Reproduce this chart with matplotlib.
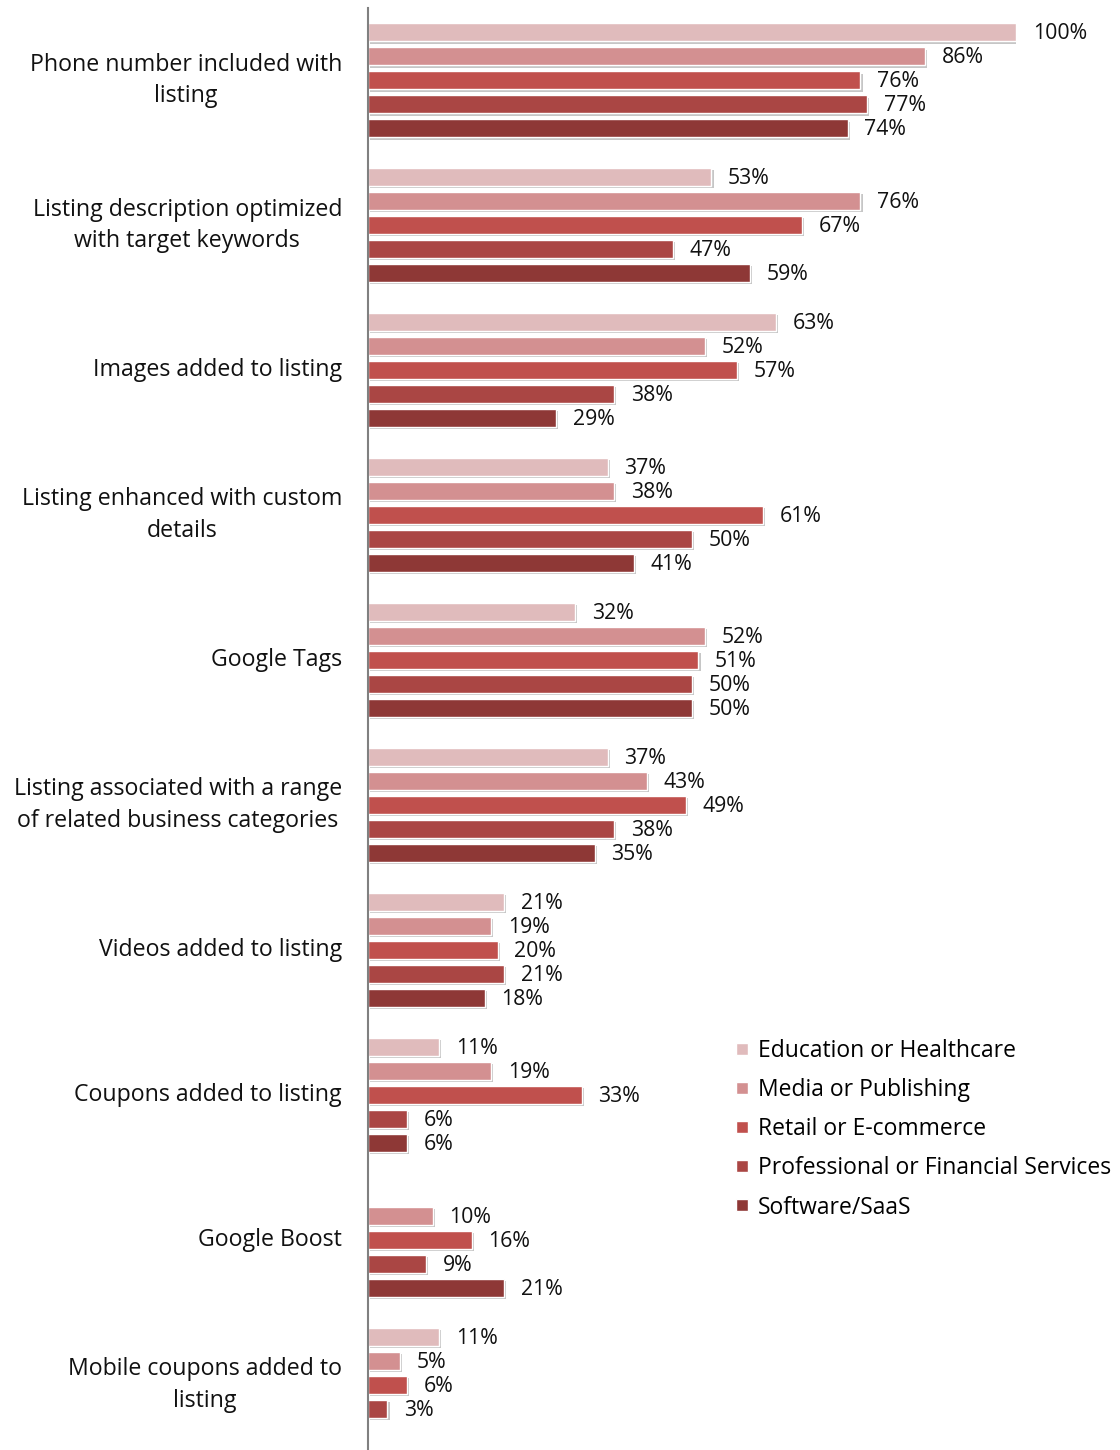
import numpy as np
import matplotlib
matplotlib.use("Agg")
import matplotlib.pyplot as plt
from matplotlib import patheffects as pe
from matplotlib.lines import Line2D

categories = [
    "Phone number included with\nlisting",
    "Listing description optimized\nwith target keywords",
    "Images added to listing",
    "Listing enhanced with custom\ndetails",
    "Google Tags",
    "Listing associated with a range\nof related business categories",
    "Videos added to listing",
    "Coupons added to listing",
    "Google Boost",
    "Mobile coupons added to\nlisting",
]
series_names = [
    "Education or Healthcare",
    "Media or Publishing",
    "Retail or E-commerce",
    "Professional or Financial Services",
    "Software/SaaS",
]
education = [100, 53, 63, 37, 32, 37, 21, 11, np.nan, 11]
media = [86, 76, 52, 38, 52, 43, 19, 19, 10, 5]
retail = [76, 67, 57, 61, 51, 49, 20, 33, 16, 6]
professional = [77, 47, 38, 50, 50, 38, 21, 6, 9, 3]
software = [74, 59, 29, 41, 50, 35, 18, 6, 21, np.nan]
series_values = [education, media, retail, professional, software]
colors = ["#E0BBBC", "#D39091", "#C0504D", "#AA4644", "#8E3836"]

plt.rcParams['font.family'] = ['Open Sans', 'DejaVu Sans']
W, H = 1120, 1450
fig = plt.figure(figsize=(W / 100, H / 100), dpi=100)
ax_left = 368 / W
ax_right = 1016 / W
ax_top = 1 - 8 / H
ax_bottom = 0.0
ax = fig.add_axes([ax_left, ax_bottom, ax_right - ax_left, ax_top - ax_bottom])

n = len(categories)
y = np.arange(n)
step = 24 / 145
bh = 18 / 145
shadow = [pe.SimplePatchShadow(offset=(1.5, -1.5), shadow_rgbFace="#a0a0a0", alpha=0.6), pe.Normal()]
for j, (vals, c) in enumerate(zip(series_values, colors)):
    pos = y + (j - 2) * step
    bars = ax.barh(pos, vals, height=bh, color=c, edgecolor="white", linewidth=1.0)
    for b in bars:
        b.set_path_effects(shadow)
    for p, v in zip(pos, vals):
        if np.isnan(v):
            continue
        ax.annotate(f"{int(v)}%", (v, p), xytext=(12, -1), textcoords="offset points",
                    va="center", ha="left", fontsize=15.3, color="#111111")

ax.set_xlim(0, 100)
ax.set_ylim(9.45, -0.5)
ax.set_xticks([])
ax.set_yticks([])
for s in ["top", "right", "bottom"]:
    ax.spines[s].set_visible(False)
ax.spines["left"].set_color("#808080")
ax.spines["left"].set_linewidth(1.5)

for i, cat in enumerate(categories):
    ax.text(-0.04, i, cat, transform=ax.get_yaxis_transform(), ha="right", va="center",
            multialignment="center", fontsize=16.7, color="#111111", linespacing=1.42)

handles = [Line2D([], [], marker="s", linestyle="none", markersize=9, markerfacecolor=c,
                  markeredgecolor="white") for c in colors]
fig.legend(handles, series_names, loc="upper left", bbox_to_anchor=(734 / W, 1 - 1039 / H),
           bbox_transform=fig.transFigure, frameon=False, fontsize=16.5, handlelength=0.7,
           handletextpad=0.35, labelspacing=0.66, borderaxespad=0, borderpad=0)

fig.savefig("out.png", dpi=100)
